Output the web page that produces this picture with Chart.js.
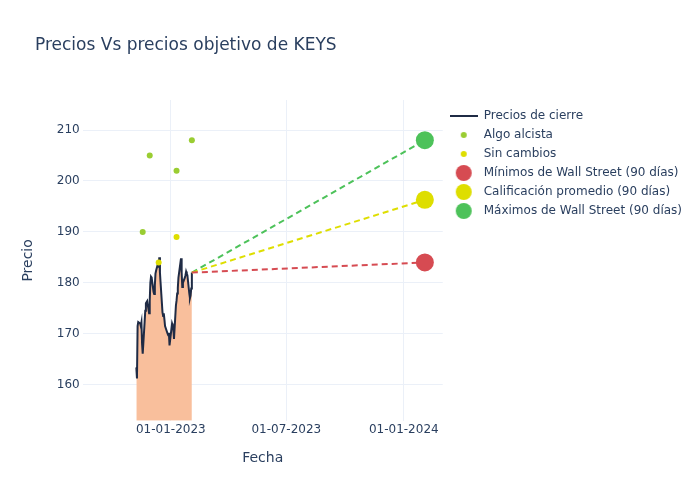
<!DOCTYPE html>
<html>
<head>
<meta charset="utf-8">
<script src="https://cdn.jsdelivr.net/npm/chart.js@4.4.0/dist/chart.umd.min.js"></script>
<style>
  html, body { margin: 0; padding: 0; background: #fff; }
  #wrap { width: 700px; height: 500px; }
</style>
</head>
<body>
<div id="wrap"><canvas id="keysChart" width="700" height="500"></canvas></div>
<script>
    // Precios de cierre (fechas de negociación)
    const closeDates = [
      '2022-11-08','2022-11-09','2022-11-10','2022-11-11','2022-11-14','2022-11-15','2022-11-16','2022-11-17','2022-11-18',
      '2022-11-21','2022-11-22','2022-11-23','2022-11-25','2022-11-28','2022-11-29','2022-11-30',
      '2022-12-01','2022-12-02','2022-12-05','2022-12-06','2022-12-07','2022-12-08','2022-12-09',
      '2022-12-12','2022-12-13','2022-12-14','2022-12-15','2022-12-16','2022-12-19','2022-12-20','2022-12-21',
      '2022-12-22','2022-12-23','2022-12-27','2022-12-28','2022-12-29','2022-12-30',
      '2023-01-03','2023-01-04','2023-01-05','2023-01-06','2023-01-09','2023-01-10','2023-01-11','2023-01-12','2023-01-13',
      '2023-01-17','2023-01-18','2023-01-19','2023-01-20','2023-01-23','2023-01-24','2023-01-25','2023-01-26','2023-01-27',
      '2023-01-30','2023-01-31','2023-02-01','2023-02-02','2023-02-03'
    ];
    const closePrices = [
      163.4, 161.2, 171.5, 172.3, 172.0, 171.5, 172.2, 168.0, 166.1,
      172.3, 174.5, 176.0, 176.4, 174.0, 176.5, 180.0,
      181.2, 181.0, 178.2, 177.8, 179.5, 181.8, 182.4,
      183.8, 183.0, 185.0, 182.0, 180.0, 174.2, 173.5, 174.0,
      172.8, 171.5, 170.0, 169.7, 170.2, 167.7,
      172.0, 171.6, 171.0, 169.0, 175.5, 176.5, 177.9, 179.0, 181.0,
      184.8, 182.0, 179.2, 180.0, 181.0, 181.5, 182.2, 181.8, 181.5,
      177.9, 177.0, 177.5, 178.9, 182.0
    ];

    // Recomendaciones de analistas
    const alcistaDates = ['2022-11-18', '2022-11-29', '2023-01-10', '2023-02-03'];
    const alcistaPrices = [190, 205, 202, 208];
    const sinCambioDates = ['2022-12-13', '2023-01-10'];
    const sinCambioPrices = [184, 189];

    // Precios objetivo (90 días)
    const targetDate = '2024-02-03';
    const targetMin = 184;
    const targetAvg = 196.3;
    const targetMax = 208;

    const xTickDates = ['2023-01-01', '2023-07-01', '2024-01-01'];
    const yTicks = [160, 170, 180, 190, 200, 210];
    const xMinDate = '2022-08-16';
    const xMaxDate = '2024-03-02';
    const yMin = 152.9;
    const yMax = 215.9;

    const TXT = '#2a3f5f';
    const GRID = '#ebf0f8';
    const LINE = '#1f2b45';
    const FILL = '#f9bf9c';
    const GREEN_S = '#9acd32';
    const YELLOW_S = '#dede00';
    const RED_T = '#d64b52';
    const YELLOW_T = '#dede00';
    const GREEN_T = '#4dc25a';

    const ts = s => Date.parse(s + 'T00:00:00Z');
    const pad2 = n => String(n).padStart(2, '0');
    function fmtDate(v) {
      const d = new Date(v);
      return pad2(d.getUTCDate()) + '-' + pad2(d.getUTCMonth() + 1) + '-' + d.getUTCFullYear();
    }

    const closeData = closeDates.map((d, i) => ({ x: ts(d), y: closePrices[i] }));
    const lastX = ts(closeDates[closeDates.length - 1]);
    const lastY = closePrices[closePrices.length - 1];

    function targetLine(label, value, color) {
      return {
        type: 'line',
        label: label,
        data: [{ x: lastX, y: lastY }, { x: ts(targetDate), y: value }],
        borderColor: color,
        borderWidth: 2,
        borderDash: [6, 4],
        pointRadius: [0, 9],
        pointHoverRadius: [0, 9],
        pointBackgroundColor: color,
        pointBorderWidth: 0,
        fill: false,
        order: 2
      };
    }

    // petits canvases pour la légende (tailles différentes)
    function markerCanvas(kind, color, r) {
      const c = document.createElement('canvas');
      if (kind === 'line') {
        c.width = 28; c.height = 4;
        const g = c.getContext('2d');
        g.fillStyle = color;
        g.fillRect(0, 1, 28, 2);
      } else {
        c.width = r * 2 + 2; c.height = r * 2 + 2;
        const g = c.getContext('2d');
        g.fillStyle = color;
        g.beginPath();
        g.arc(r + 1, r + 1, r, 0, Math.PI * 2);
        g.fill();
      }
      return c;
    }
    const legendMarkers = [
      markerCanvas('line', LINE),
      markerCanvas('dot', GREEN_S, 3),
      markerCanvas('dot', YELLOW_S, 3),
      markerCanvas('dot', RED_T, 8),
      markerCanvas('dot', YELLOW_T, 8),
      markerCanvas('dot', GREEN_T, 8)
    ];

    const titlePlugin = {
      id: 'plotTitle',
      afterDraw(chart) {
        const c = chart.ctx;
        c.save();
        c.font = '17px "DejaVu Sans"';
        c.fillStyle = TXT;
        c.textBaseline = 'middle';
        c.textAlign = 'left';
        c.fillText('Precios Vs precios objetivo de KEYS', 35, 46);
        c.restore();
      }
    };

    Chart.defaults.font.family = '"DejaVu Sans", sans-serif';
    Chart.defaults.color = TXT;

    const ctx = document.getElementById('keysChart').getContext('2d');
    const chart = new Chart(ctx, {
      type: 'line',
      data: {
        datasets: [
          {
            label: 'Precios de cierre',
            data: closeData,
            borderColor: LINE,
            borderWidth: 2,
            backgroundColor: FILL,
            fill: 'start',
            pointRadius: 0,
            tension: 0,
            order: 3
          },
          {
            type: 'scatter',
            label: 'Algo alcista',
            data: alcistaDates.map((d, i) => ({ x: ts(d), y: alcistaPrices[i] })),
            backgroundColor: GREEN_S,
            borderWidth: 0,
            pointRadius: 3,
            order: 1
          },
          {
            type: 'scatter',
            label: 'Sin cambios',
            data: sinCambioDates.map((d, i) => ({ x: ts(d), y: sinCambioPrices[i] })),
            backgroundColor: YELLOW_S,
            borderWidth: 0,
            pointRadius: 3,
            order: 1
          },
          targetLine('Mínimos de Wall Street (90 días)', targetMin, RED_T),
          targetLine('Calificación promedio (90 días)', targetAvg, YELLOW_T),
          targetLine('Máximos de Wall Street (90 días)', targetMax, GREEN_T)
        ]
      },
      options: {
        responsive: false,
        animation: false,
        layout: { padding: { top: 100, left: 10, right: 8, bottom: 29 } },
        plugins: {
          title: { display: false },
          tooltip: { enabled: false },
          legend: {
            position: 'right',
            align: 'start',
            maxWidth: 260,
            title: { display: true, text: '', font: { size: 3, lineHeight: 1 }, padding: 0 },
            labels: {
              usePointStyle: true,
              pointStyleWidth: 28,
              padding: 7,
              font: { size: 12 },
              color: TXT,
              generateLabels: ch => ch.data.datasets.map((ds, i) => ({
                text: ds.label,
                pointStyle: legendMarkers[i],
                fillStyle: 'transparent',
                strokeStyle: 'transparent',
                lineWidth: 0,
                fontColor: TXT,
                hidden: false,
                datasetIndex: i
              }))
            }
          }
        },
        scales: {
          x: {
            type: 'linear',
            min: ts(xMinDate),
            max: ts(xMaxDate),
            border: { display: false },
            grid: { color: GRID, drawTicks: false },
            afterBuildTicks: ax => { ax.ticks = xTickDates.map(d => ({ value: ts(d) })); },
            ticks: { padding: 2, maxRotation: 0, font: { size: 12 }, color: TXT, callback: v => fmtDate(v) },
            title: { display: true, text: 'Fecha', font: { size: 14 }, color: TXT, padding: { top: 11, bottom: 4 } }
          },
          y: {
            min: yMin,
            max: yMax,
            border: { display: false },
            grid: { color: GRID, drawTicks: false },
            afterBuildTicks: ax => { ax.ticks = yTicks.map(v => ({ value: v })); },
            ticks: { padding: 3, font: { size: 12 }, color: TXT },
            title: { display: true, text: 'Precio', font: { size: 14 }, color: TXT, padding: { top: 10, bottom: 17 } }
          }
        }
      },
      plugins: [titlePlugin]
    });
</script>
</body>
</html>
